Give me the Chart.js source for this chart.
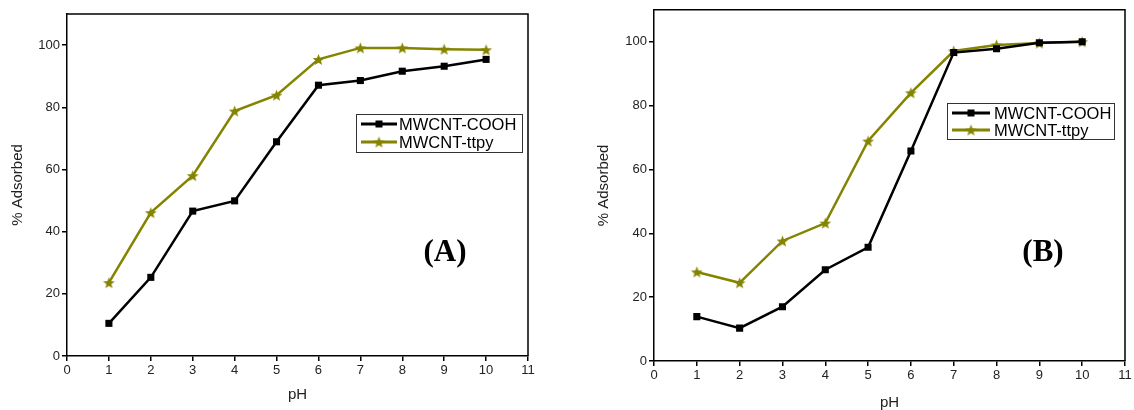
<!DOCTYPE html>
<html>
<head>
<meta charset="utf-8">
<script src="https://cdn.jsdelivr.net/npm/chart.js@4/dist/chart.umd.min.js"></script>
<style>
  html, body { margin: 0; padding: 0; background: #fff; }
  #wrap { position: relative; width: 1134px; height: 410px; overflow: hidden; }
  .pane { position: absolute; top: 0; }
</style>
</head>
<body>
<div id="wrap">
  <div class="pane" style="left:0;width:560px;height:410px;"><canvas id="cA" width="560" height="410"></canvas></div>
  <div class="pane" style="left:580px;width:554px;height:410px;"><canvas id="cB" width="554" height="410"></canvas></div>
</div>
<script>
// ---- data ----
const phValues = [1, 2, 3, 4, 5, 6, 7, 8, 9, 10];
const seriesNames = ['MWCNT-COOH', 'MWCNT-ttpy'];
const coohA = [10.5, 25.3, 46.6, 49.9, 68.9, 87.1, 88.6, 91.6, 93.2, 95.4];
const ttpyA = [23.6, 46.1, 58.0, 78.8, 83.9, 95.4, 99.1, 99.1, 98.7, 98.5];
const coohB = [13.9, 10.3, 17.0, 28.6, 35.6, 65.8, 96.6, 97.8, 99.7, 100.0];
const ttpyB = [27.9, 24.5, 37.6, 43.2, 68.9, 84.0, 97.1, 99.0, 99.6, 100.0];
const xTickValues = [0, 1, 2, 3, 4, 5, 6, 7, 8, 9, 10, 11];
const yTickValues = [0, 20, 40, 60, 80, 100];
const panelLabels = ['(A)', '(B)'];
const xTitle = 'pH';
const yTitle = '% Adsorbed';

const OLIVE = '#848400';
const FONT = "'Liberation Sans', Arial, sans-serif";

function makeStar(color, rOut, rIn) {
  const s = Math.ceil(rOut * 2 + 2);
  const c = document.createElement('canvas');
  c.width = s; c.height = s;
  const g = c.getContext('2d');
  g.fillStyle = color;
  g.beginPath();
  for (let i = 0; i < 10; i++) {
    const r = i % 2 === 0 ? rOut : rIn;
    const a = -Math.PI / 2 + i * Math.PI / 5;
    const x = s / 2 + r * Math.cos(a), y = s / 2 + r * Math.sin(a) + 0.6;
    if (i === 0) g.moveTo(x, y); else g.lineTo(x, y);
  }
  g.closePath();
  g.fill();
  return c;
}
const starImg = makeStar(OLIVE, 6.2, 2.6);

function toXY(vals) { return phValues.map((x, i) => ({ x: x, y: vals[i] })); }

const framePlugin = {
  id: 'frameAndLegend',
  afterDatasetsDraw(chart, args, o) {
    const ctx = chart.ctx, a = chart.chartArea;
    ctx.save();
    // frame top & right
    ctx.strokeStyle = '#000';
    ctx.lineWidth = 1.5;
    ctx.beginPath();
    ctx.moveTo(a.left, a.top); ctx.lineTo(a.right, a.top); ctx.lineTo(a.right, a.bottom);
    ctx.stroke();
    // legend box
    const L = o.legend;
    ctx.fillStyle = '#fff';
    ctx.fillRect(L.x, L.y, L.w, L.h);
    ctx.lineWidth = 1;
    ctx.strokeStyle = '#333';
    ctx.strokeRect(L.x + 0.5, L.y + 0.5, L.w, L.h);
    chart.data.datasets.forEach((ds, i) => {
      const yy = L.rows[i];
      ctx.strokeStyle = ds.borderColor;
      ctx.lineWidth = 2.8;
      ctx.beginPath(); ctx.moveTo(L.lx1, yy); ctx.lineTo(L.lx2, yy); ctx.stroke();
      const mx = (L.lx1 + L.lx2) / 2;
      if (i === 0) {
        ctx.fillStyle = ds.pointBackgroundColor;
        ctx.fillRect(mx - 3.5, yy - 3.5, 7, 7);
      } else {
        ctx.drawImage(starImg, mx - starImg.width / 2, yy - starImg.height / 2);
      }
      ctx.fillStyle = '#000';
      ctx.font = '16.5px ' + FONT;
      ctx.textBaseline = 'middle';
      ctx.textAlign = 'left';
      ctx.fillText(ds.label, L.tx, yy + 1);
    });
    // panel label
    ctx.fillStyle = '#000';
    ctx.font = "bold 31px 'Liberation Serif', 'Times New Roman', serif";
    ctx.textAlign = 'center';
    ctx.textBaseline = 'middle';
    ctx.fillText(o.label.text, o.label.x, o.label.y);
    ctx.restore();
  }
};

function buildChart(id, cooh, ttpy, geom) {
  return new Chart(document.getElementById(id), {
    type: 'line',
    data: {
      datasets: [
        { label: seriesNames[0], data: toXY(cooh), borderColor: '#000', backgroundColor: '#000',
          pointBackgroundColor: '#000', pointBorderColor: '#000', pointStyle: 'rect', pointRadius: 5,
          pointBorderWidth: 0, borderWidth: 2.5, tension: 0 },
        { label: seriesNames[1], data: toXY(ttpy), borderColor: OLIVE, backgroundColor: OLIVE,
          pointBackgroundColor: OLIVE, pointStyle: starImg, pointRadius: 6, borderWidth: 2.5, tension: 0 }
      ]
    },
    options: {
      responsive: false,
      animation: false,
      devicePixelRatio: 1,
      layout: { padding: { left: 0, right: geom.padRight, top: geom.padTop, bottom: 0 } },
      plugins: {
        legend: { display: false },
        tooltip: { enabled: false },
        frameAndLegend: { legend: geom.legend, label: geom.label }
      },
      scales: {
        x: {
          type: 'linear', min: 0, max: 11,
          afterBuildTicks: s => { s.ticks = xTickValues.map(v => ({ value: v })); },
          afterFit: s => { s.height = geom.xH; },
          ticks: { color: '#222', font: { family: FONT, size: 13 }, padding: 2, maxRotation: 0, autoSkip: false },
          grid: { drawOnChartArea: false, drawTicks: true, tickLength: 5, color: '#000', lineWidth: 1.5 },
          border: { display: true, color: '#000', width: 1.5 },
          title: { display: true, text: xTitle, color: '#222', font: { family: FONT, size: 15 }, padding: { top: 0, bottom: geom.xTitlePadB } }
        },
        y: {
          type: 'linear', min: 0, max: 110,
          afterBuildTicks: s => { s.ticks = yTickValues.map(v => ({ value: v })); },
          afterFit: s => { s.width = geom.yW; },
          ticks: { color: '#222', font: { family: FONT, size: 13 }, padding: 2 },
          grid: { drawOnChartArea: false, drawTicks: true, tickLength: 5, color: '#000', lineWidth: 1.5 },
          border: { display: true, color: '#000', width: 1.5 },
          title: { display: true, text: yTitle, color: '#222', font: { family: FONT, size: 15 }, padding: { top: geom.yTitlePad, bottom: 0 } }
        }
      }
    },
    plugins: [framePlugin]
  });
}

buildChart('cA', coohA, ttpyA, {
  yW: 67, xH: 54, padRight: 32, padTop: 14, xTitlePadB: 6, yTitlePad: 9,
  legend: { x: 356, y: 114, w: 166, h: 38, rows: [124, 142], lx1: 361, lx2: 397, tx: 399 },
  label: { text: panelLabels[0], x: 445, y: 253 }
});
buildChart('cB', coohB, ttpyB, {
  yW: 74, xH: 49, padRight: 9, padTop: 9, xTitlePadB: -2, yTitlePad: 15,
  legend: { x: 367, y: 103, w: 167, h: 36, rows: [113, 130], lx1: 372, lx2: 410, tx: 414 },
  label: { text: panelLabels[1], x: 463, y: 253 }
});
</script>
</body>
</html>
